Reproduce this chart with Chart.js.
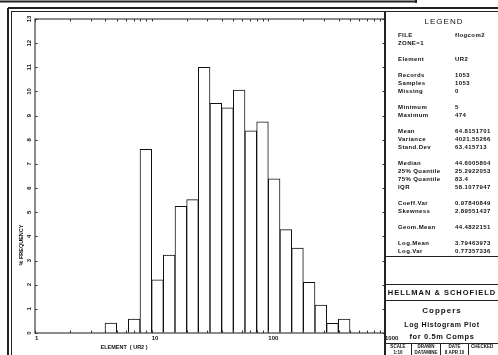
<!DOCTYPE html>
<html>
<head>
<meta charset="utf-8">
<script src="https://cdn.jsdelivr.net/npm/chart.js@4"></script>
<style>
body { margin: 0; background: #fff; }
canvas { display: block; }
</style>
</head>
<body>
<canvas id="hist" width="498" height="355"></canvas>
<script>
// bins are 0.1 wide in log10(value); binStarts = lower edge
const binStarts = [0.6, 0.7, 0.8, 0.9, 1.0, 1.1, 1.2, 1.3, 1.4, 1.5, 1.6, 1.7, 1.8, 1.9, 2.0, 2.1, 2.2, 2.3, 2.4, 2.5, 2.6];
const freq = [0.41, 0, 0.58, 7.6, 2.2, 3.23, 5.24, 5.52, 11.0, 9.51, 9.32, 10.06, 8.37, 8.74, 6.38, 4.28, 3.52, 2.1, 1.16, 0.40, 0.58];
const xTickLabels = [1, 10, 100, 1000];
const xMinorTicks = [2, 3, 4, 5, 6, 7, 8, 9, 20, 30, 40, 50, 60, 70, 80, 90, 200, 300, 400, 500, 600, 700, 800, 900];
const yTicks = [0, 1, 2, 3, 4, 5, 6, 7, 8, 9, 10, 11, 12, 13];

const legendRows = [
    ['FILE', 'flogcom2'], ['ZONE=1', ''], null,
    ['Element', 'UR2'], null,
    ['Records', '1053'], ['Samples', '1053'], ['Missing', '0'], null,
    ['Minimum', '5'], ['Maximum', '474'], null,
    ['Mean', '64.8151701'], ['Variance', '4021.55266'], ['Stand.Dev', '63.415713'], null,
    ['Median', '44.6005804'], ['25% Quantile', '25.2922053'], ['75% Quantile', '83.4'], ['IQR', '58.1077947'], null,
    ['Coeff.Var', '0.97840849'], ['Skewness', '2.89551437'], null,
    ['Geom.Mean', '44.4822151'], null,
    ['Log.Mean', '3.79463973'], ['Log.Var', '0.77357336']
];

const FONT = '"Liberation Sans", Arial, sans-serif';

function line(ctx, x1, y1, x2, y2) {
    ctx.beginPath();
    ctx.moveTo(x1, y1);
    ctx.lineTo(x2, y2);
    ctx.stroke();
}

const sheet = {
    id: 'sheet',
    afterDraw(chart) {
        const ctx = chart.ctx;
        const a = chart.chartArea;
        const xs = chart.scales.x;
        const ys = chart.scales.y;
        ctx.save();

        // drawing frame
        ctx.strokeStyle = '#222';
        ctx.lineWidth = 2;
        line(ctx, 0, 1.5, 416, 1.5);
        line(ctx, 416, 0, 416, 3);
        line(ctx, 8, 8, 498, 8);
        line(ctx, 8, 8, 8, 355);
        ctx.lineWidth = 1;
        line(ctx, 11, 11.5, 498, 11.5);
        line(ctx, 11.5, 11, 11.5, 355);

        // plot box
        ctx.strokeStyle = '#666';
        ctx.lineWidth = 1.5;
        ctx.strokeRect(a.left, a.top, a.right - a.left, a.bottom - a.top);

        // inward tick marks
        ctx.strokeStyle = '#333';
        ctx.lineWidth = 1;
        xTickLabels.concat(xMinorTicks).forEach(v => {
            const px = Math.round(xs.getPixelForValue(Math.log10(v))) + 0.5;
            line(ctx, px, a.bottom, px, a.bottom - 2.5);
            line(ctx, px, a.top, px, a.top + 2.5);
        });
        yTicks.forEach(v => {
            const py = Math.round(ys.getPixelForValue(v)) + 0.5;
            line(ctx, a.left, py, a.left + 2.5, py);
            line(ctx, a.right, py, a.right - 2.5, py);
        });

        // y tick labels, rotated
        ctx.fillStyle = '#111';
        ctx.font = 'bold 6px ' + FONT;
        ctx.textAlign = 'center';
        ctx.textBaseline = 'middle';
        yTicks.forEach(v => {
            ctx.save();
            ctx.translate(29, ys.getPixelForValue(v));
            ctx.rotate(-Math.PI / 2);
            ctx.fillText(String(v), 0, 0);
            ctx.restore();
        });

        // axis titles
        ctx.font = 'bold 5.5px ' + FONT;
        ctx.save();
        ctx.translate(21, 245);
        ctx.rotate(-Math.PI / 2);
        ctx.fillText('% FREQUENCY', 0, 0);
        ctx.restore();
        ctx.fillText('ELEMENT  ( UR2 )', 124, 347);

        // legend panel
        const L = 385;
        ctx.strokeStyle = '#222';
        ctx.lineWidth = 2;
        line(ctx, L, 11, L, 355);
        ctx.lineWidth = 1;
        [256.5, 284.5, 300.5, 343.5].forEach(y => line(ctx, L, y, 498, y));
        [411.5, 440.5, 468.5].forEach(x => line(ctx, x, 343, x, 355));

        ctx.fillStyle = '#111';
        ctx.letterSpacing = '1px';
        ctx.font = '8px ' + FONT;
        ctx.fillText('LEGEND', 444, 22);

        ctx.letterSpacing = '0.4px';
        ctx.font = 'bold 6px ' + FONT;
        ctx.textAlign = 'left';
        legendRows.forEach((r, i) => {
            if (!r) return;
            const y = 35 + 8 * i;
            ctx.fillText(r[0], 398, y);
            if (r[1]) ctx.fillText(r[1], 455, y);
        });

        ctx.textAlign = 'center';
        ctx.letterSpacing = '1px';
        ctx.font = 'bold 7.5px ' + FONT;
        ctx.fillText('HELLMAN & SCHOFIELD', 442, 293);
        ctx.font = 'bold 8px ' + FONT;
        ctx.fillText('Coppers', 442, 311);
        ctx.letterSpacing = '0.6px';
        ctx.font = 'bold 7px ' + FONT;
        ctx.fillText('Log Histogram Plot', 442, 325);
        ctx.font = 'bold 7.5px ' + FONT;
        ctx.fillText('for 0.5m Comps', 442, 337);

        ctx.letterSpacing = '0px';
        ctx.font = 'bold 4.5px ' + FONT;
        ctx.fillText('SCALE', 398, 347);
        ctx.fillText('1:10', 398, 352.5);
        ctx.fillText('DRAWN', 426, 347);
        ctx.fillText('DATAMINE', 426, 352.5);
        ctx.fillText('DATE', 454.5, 347);
        ctx.fillText('8 APR 10', 454.5, 352.5);
        ctx.textAlign = 'left';
        ctx.fillText('CHECKED', 471, 347);

        ctx.restore();
    }
};

new Chart(document.getElementById('hist'), {
    type: 'bar',
    data: {
        datasets: [{
            data: binStarts.map((s, i) => ({ x: s + 0.05, y: freq[i] })),
            backgroundColor: '#fff',
            borderColor: '#111',
            borderWidth: 1,
            borderSkipped: 'start',
            barPercentage: 1,
            categoryPercentage: 1
        }]
    },
    options: {
        responsive: false,
        animation: false,
        events: [],
        layout: { padding: { left: 0, right: 113, top: 19, bottom: 0 } },
        plugins: { legend: { display: false }, tooltip: { enabled: false } },
        scales: {
            x: {
                type: 'linear',
                offset: false,
                min: 0,
                max: 3,
                afterBuildTicks: s => { s.ticks = xTickLabels.map(v => ({ value: Math.log10(v) })); },
                afterFit: s => { s.height = 22; },
                grid: { display: false, drawTicks: false },
                border: { display: false },
                ticks: {
                    autoSkip: false,
                    maxRotation: 0,
                    align: 'start',
                    padding: 2,
                    color: '#111',
                    font: { family: FONT, size: 6, weight: 'bold' },
                    callback: v => String(Math.round(Math.pow(10, v)))
                }
            },
            y: {
                min: 0,
                max: 13,
                afterBuildTicks: s => { s.ticks = yTicks.map(v => ({ value: v })); },
                afterFit: s => { s.width = 35; },
                grid: { display: false, drawTicks: false },
                border: { display: false },
                ticks: { display: false }
            }
        }
    },
    plugins: [sheet]
});
</script>
</body>
</html>
